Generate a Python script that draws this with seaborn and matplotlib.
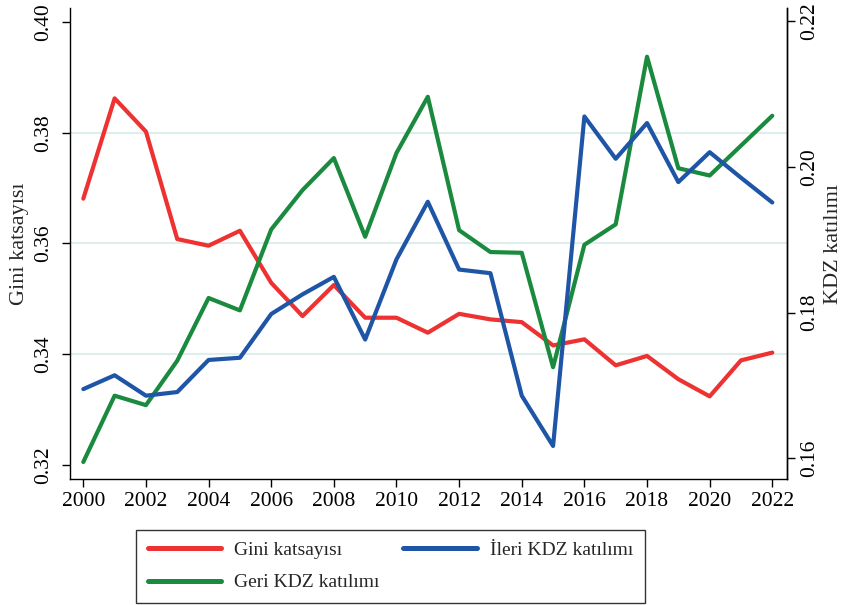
import matplotlib
matplotlib.use("Agg")
import matplotlib.pyplot as plt
import seaborn as sns
import pandas as pd
from matplotlib.lines import Line2D

years = list(range(2000, 2023))
gini = [0.3681, 0.3862, 0.3802, 0.3608, 0.3596, 0.3623, 0.3529, 0.3469, 0.3525,
        0.3466, 0.3466, 0.3439, 0.3473, 0.3463, 0.3458, 0.3416, 0.3427, 0.3380,
        0.3397, 0.3355, 0.3324, 0.3389, 0.3403]
geri = [0.1595, 0.1686, 0.1673, 0.1734, 0.1820, 0.1803, 0.1914, 0.1968, 0.2012,
        0.1904, 0.2019, 0.2096, 0.1913, 0.1883, 0.1882, 0.1725, 0.1893, 0.1921,
        0.2151, 0.1998, 0.1988, 0.2029, 0.2070]
ileri = [0.1695, 0.1714, 0.1686, 0.1691, 0.1735, 0.1738, 0.1798, 0.1825, 0.1849,
         0.1763, 0.1873, 0.1952, 0.1859, 0.1854, 0.1686, 0.1617, 0.2069, 0.2011,
         0.2060, 0.1979, 0.2020, 0.1985, 0.1951]

labels = ["Gini katsayısı", "Geri KDZ katılımı", "İleri KDZ katılımı"]
colors = ["#ee3131", "#1a8a3e", "#1f55a6"]
left_ticks = [0.32, 0.34, 0.36, 0.38, 0.40]
right_ticks = [0.16, 0.18, 0.20, 0.22]
x_ticks = list(range(2000, 2023, 2))

df = pd.DataFrame({"year": years, "gini": gini, "geri": geri, "ileri": ileri})

sns.set_theme(style="white")
plt.rcParams["font.family"] = ["Liberation Serif", "DejaVu Serif"]

fig = plt.figure(figsize=(8.44, 6.05), dpi=100)
ax = fig.add_axes([70 / 844, 1 - 479 / 605, 716.7 / 844, 471 / 605])
ax2 = ax.twinx()

lw = 3.0
sns.lineplot(data=df, x="year", y="gini", ax=ax, color=colors[0], lw=lw)
sns.lineplot(data=df, x="year", y="geri", ax=ax2, color=colors[1], lw=lw)
sns.lineplot(data=df, x="year", y="ileri", ax=ax2, color=colors[2], lw=lw)

ax.set_xlim(1999.575, 2022.46)
ax.set_ylim(0.31748, 0.40252)
ax2.set_ylim(0.15717, 0.22178)

fs_tick = 15.5
ax.set_xticks(x_ticks)
ax.set_yticks(left_ticks)
ax2.set_yticks(right_ticks)
ax.set_xticklabels([str(t) for t in x_ticks], fontsize=fs_tick)
ax.set_yticklabels([f"{t:.2f}" for t in left_ticks], fontsize=fs_tick, rotation=90, va="center")
ax2.set_yticklabels([f"{t:.2f}" for t in right_ticks], fontsize=fs_tick, rotation=90, va="center")

ax.grid(axis="y", color="#dfeded", lw=1.5)
gl = ax.get_ygridlines()
gl[0].set_visible(False)
gl[-1].set_visible(False)
ax.set_axisbelow(True)

for a in (ax, ax2):
    a.spines["top"].set_visible(False)
    for s in ("left", "right", "bottom"):
        a.spines[s].set_color("black")
        a.spines[s].set_linewidth(1.0)
    a.tick_params(axis="both", which="major", direction="out", length=6, width=1.0,
                  colors="black", labelcolor="black")
ax.tick_params(axis="y", left=True, pad=6)
ax.tick_params(axis="x", bottom=True, pad=3.5)
ax2.tick_params(axis="y", right=True, pad=4)
ax2.spines["left"].set_visible(False)
ax2.spines["bottom"].set_visible(False)

ax.set_xlabel("")
ax.set_ylabel("Gini katsayısı", fontsize=16)
ax2.set_ylabel("KDZ katılımı", fontsize=16, rotation=90)
ax.yaxis.set_label_coords(-0.0572, 0.5)
ax2.yaxis.set_label_coords(1.052, 0.5)

handles = [Line2D([0], [0], color=c, lw=3.6) for c in colors]
leg = fig.legend(handles, labels, ncol=2, loc="upper left",
                 bbox_to_anchor=(136 / 844, 1 - 530 / 605), borderaxespad=0,
                 frameon=True, fancybox=False, edgecolor="black",
                 fontsize=14, handlelength=3.76, columnspacing=1.25,
                 borderpad=0.6, labelspacing=0.75, handletextpad=0.67)
leg.get_frame().set_linewidth(1.0)

fig.savefig("out.png", dpi=100, facecolor="white")
